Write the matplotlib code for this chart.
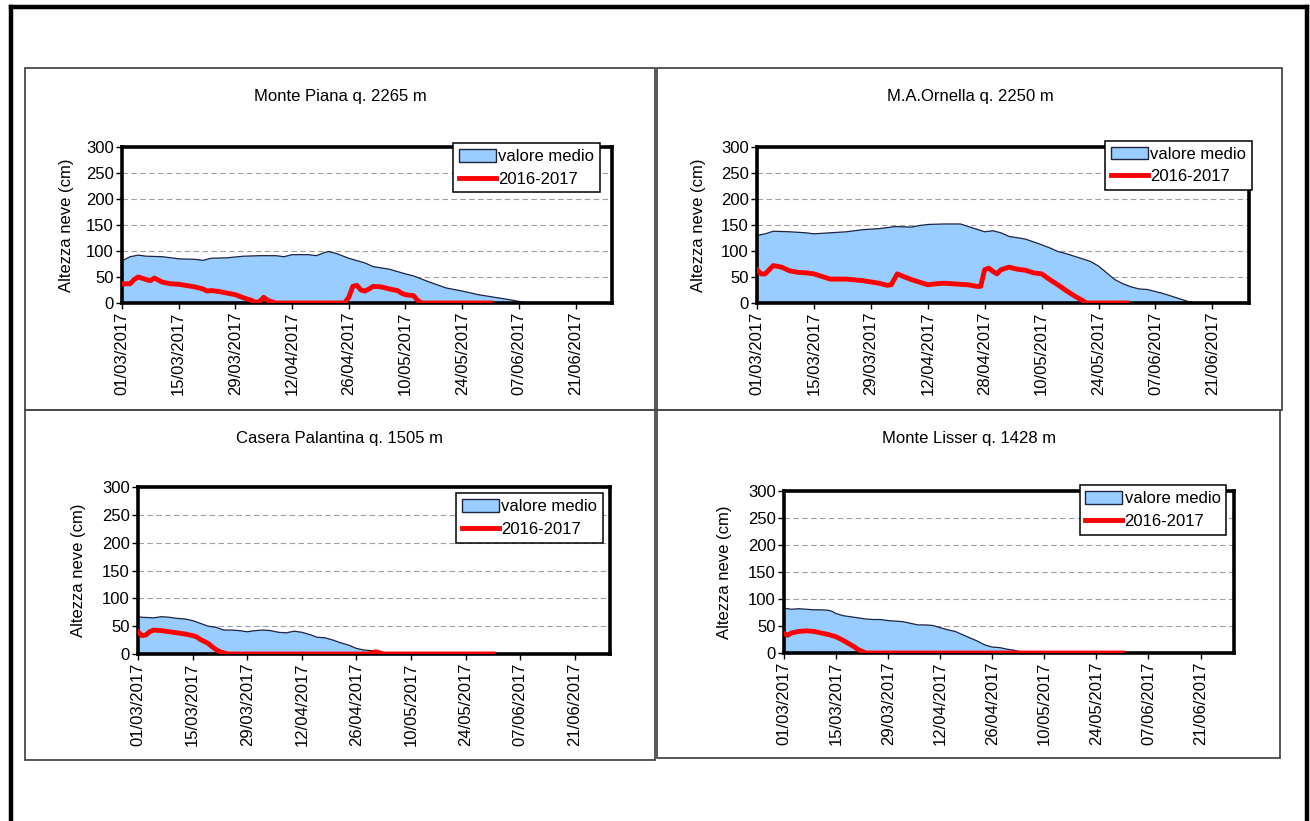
import matplotlib
matplotlib.use("Agg")
import matplotlib.pyplot as plt
from matplotlib.patches import Rectangle, Patch
from matplotlib.lines import Line2D

plt.rcParams['font.family'] = ['Liberation Sans', 'DejaVu Sans']

W, H = 1310, 821

# days counted from 01/03/2017
tick_days = [0, 14, 28, 42, 56, 70, 84, 98, 112]
tick_labels = ['01/03/2017', '15/03/2017', '29/03/2017', '12/04/2017', '26/04/2017',
               '10/05/2017', '24/05/2017', '07/06/2017', '21/06/2017']
tick_labels_ornella = ['01/03/2017', '15/03/2017', '29/03/2017', '12/04/2017', '28/04/2017',
                       '10/05/2017', '24/05/2017', '07/06/2017', '21/06/2017']

# Monte Piana
piana_medio_d = [0, 2, 4, 6, 10, 14, 18, 20, 22, 26, 30, 34, 38, 40, 42, 46, 48, 50, 51, 53,
                 56, 60, 62, 66, 70, 72, 76, 80, 84, 88, 92, 96, 98, 100, 103]
piana_medio_v = [81, 89, 92, 90, 89, 85, 84, 82, 86, 87, 90, 91, 91, 89, 93, 93, 91, 97, 99, 95,
                 86, 77, 70, 65, 56, 52, 40, 29, 23, 16, 11, 6, 3, 1, 0]
piana_stag_d = [0, 2, 3, 4, 6, 7, 8, 10, 12, 14, 18, 20, 21, 22, 24, 26, 28, 30, 32, 33, 34, 35,
                36, 38, 55, 56, 57, 58, 59, 60, 61, 62, 64, 66, 68, 69, 70, 72, 73, 74, 91]
piana_stag_v = [37, 37, 45, 50, 45, 43, 48, 40, 37, 36, 31, 27, 23, 24, 22, 19, 16, 10, 5, 1, 3, 11,
                5, 0, 0, 11, 32, 34, 25, 23, 27, 32, 31, 27, 24, 19, 16, 14, 5, 0, 0]

# M.A.Ornella
ornella_medio_d = [0, 2, 4, 8, 12, 14, 18, 22, 26, 30, 34, 38, 40, 42, 46, 50, 52, 54, 56, 58,
                   60, 62, 66, 70, 72, 74, 76, 80, 82, 84, 86, 88, 90, 92, 94, 96, 98, 100, 102,
                   104, 106, 108]
ornella_medio_v = [130, 133, 138, 137, 135, 133, 135, 137, 141, 143, 147, 146, 149, 151, 152, 152,
                   147, 142, 137, 139, 135, 128, 123, 112, 106, 99, 95, 85, 80, 71, 58, 45, 37, 31,
                   27, 26, 22, 18, 13, 8, 3, 0]
ornella_stag_d = [0, 1, 2, 3, 4, 6, 8, 10, 12, 14, 16, 18, 22, 26, 30, 32, 33, 34.5, 36, 38, 40,
                  42, 44, 46, 48, 52, 54, 55, 56, 57, 58, 59, 60, 62, 64, 66, 68, 70, 72, 74, 76,
                  78, 80, 81, 91]
ornella_stag_v = [64, 56, 56, 64, 72, 69, 62, 59, 58, 56, 51, 46, 46, 43, 38, 34, 35, 56, 51, 45, 40,
                  35, 37, 38, 37, 35, 32, 32, 64, 67, 61, 56, 64, 69, 65, 63, 58, 56, 45, 35, 24,
                  14, 5, 0, 0]

# Casera Palantina
palantina_medio_d = [0, 1, 4, 6, 8, 10, 12, 14, 16, 18, 20, 22, 24, 26, 28, 30, 32, 34, 36, 38,
                     40, 42, 44, 46, 48, 50, 52, 54, 56, 58, 60, 62, 64]
palantina_medio_v = [67, 66, 65, 67, 66, 64, 63, 60, 55, 50, 48, 43, 43, 42, 40, 42, 43, 42, 39, 38,
                     41, 39, 35, 30, 29, 25, 20, 16, 10, 7, 6, 4, 0]
palantina_stag_d = [0, 1, 2, 3, 4, 6, 8, 10, 12, 14, 15, 16, 18, 19, 20, 21, 22, 23, 59, 61, 63, 91]
palantina_stag_v = [40, 33, 34, 40, 43, 42, 40, 38, 36, 33, 31, 26, 19, 13, 8, 4, 2, 0, 0, 4, 0, 0]

# Monte Lisser
lisser_medio_d = [0, 2, 4, 6, 8, 10, 12, 13, 14, 16, 18, 20, 22, 24, 26, 28, 30, 32, 34, 36, 38,
                  40, 42, 44, 46, 48, 50, 52, 54, 56, 58, 60, 62, 64, 66]
lisser_medio_v = [83, 81, 82, 81, 80, 80, 79, 77, 73, 69, 67, 65, 63, 62, 62, 60, 59, 58, 55, 52, 52,
                  51, 47, 43, 40, 34, 28, 22, 15, 11, 10, 7, 5, 1, 0]
lisser_stag_d = [0, 1, 2, 4, 6, 8, 10, 12, 14, 16, 18, 19, 20, 21, 22, 91]
lisser_stag_v = [36, 33, 37, 40, 41, 40, 37, 34, 30, 23, 15, 11, 6, 3, 0, 0]

stations = [
    ('Monte Piana q. 2265 m', piana_medio_d, piana_medio_v, piana_stag_d, piana_stag_v, tick_labels),
    ('M.A.Ornella q. 2250 m', ornella_medio_d, ornella_medio_v, ornella_stag_d, ornella_stag_v, tick_labels_ornella),
    ('Casera Palantina q. 1505 m', palantina_medio_d, palantina_medio_v, palantina_stag_d, palantina_stag_v, tick_labels),
    ('Monte Lisser q. 1428 m', lisser_medio_d, lisser_medio_v, lisser_stag_d, lisser_stag_v, tick_labels),
]

# pixel layout: panel frame, plot area, title centre, y-label x, legend anchor
frames = [(25, 68, 655, 410), (657, 68, 1282, 410), (25, 410, 655, 760), (657, 410, 1280, 758)]
plot_boxes = [(122, 147, 612, 303), (757, 147, 1249, 303), (138, 487, 610, 654), (784, 491, 1234, 653)]
title_pos = [(340, 96), (970, 96), (340, 438), (969, 438)]
ylabel_x = [67, 698, 79, 725]
legend_anchor = [(0.976, 1.026), (1.006, 1.04), (0.985, 0.964), (0.983, 1.037)]

FILL = '#99CCFF'
RED = '#FF0000'


def fig_box(x0, y0, x1, y1):
    return [x0 / W, 1 - y1 / H, (x1 - x0) / W, (y1 - y0) / H]


fig = plt.figure(figsize=(W / 100, H / 100), dpi=100)

# outer border (open at the bottom)
fig.add_artist(Line2D([11 / W, 11 / W], [0, 1 - 7 / H], color='black', lw=3.2))
fig.add_artist(Line2D([11 / W, 1307 / W], [1 - 7 / H, 1 - 7 / H], color='black', lw=3.2))
fig.add_artist(Line2D([1307 / W, 1307 / W], [0, 1 - 7 / H], color='black', lw=3.2))

for (x0, y0, x1, y1) in frames:
    fig.add_artist(Rectangle((x0 / W, 1 - y1 / H), (x1 - x0) / W, (y1 - y0) / H,
                             transform=fig.transFigure, fill=False, edgecolor='#4a4a4a', lw=1.3))

for i, (name, md, mv, sd, sv, labels) in enumerate(stations):
    ax = fig.add_axes(fig_box(*plot_boxes[i]))
    ax.set_axisbelow(True)
    ax.fill_between(md, mv, 0, facecolor=FILL, edgecolor='none', zorder=1)
    ax.plot(md, mv, color='#1c2540', lw=0.9, zorder=1.5)
    ax.plot(sd, sv, color=RED, lw=3.5, solid_joinstyle='round', zorder=3)

    ax.set_xlim(0, 121)
    ax.set_ylim(0, 300)
    ax.set_yticks(range(0, 301, 50))
    ax.set_xticks(tick_days)
    ax.set_xticklabels(labels, rotation=90)
    ax.tick_params(axis='both', direction='out', length=4, width=1, labelsize=12,
                   pad=2, colors='black')
    ax.yaxis.grid(True, linestyle=(0, (5, 3)), color='#a0a0a0', lw=0.8)
    for sp in ax.spines.values():
        sp.set_linewidth(2.6)
        sp.set_color('black')

    handles = [Patch(facecolor=FILL, edgecolor='#1c2540', lw=1.0),
               Line2D([], [], color=RED, lw=3.5)]
    leg = ax.legend(handles, ['valore medio', '2016-2017'], loc='upper right',
                    bbox_to_anchor=legend_anchor[i], borderaxespad=0, fontsize=12,
                    frameon=True, fancybox=False, framealpha=1, edgecolor='black',
                    borderpad=0.35, labelspacing=0.45, handlelength=2.2,
                    handleheight=0.8, handletextpad=0.15)
    leg.get_frame().set_linewidth(1.1)
    leg.set_zorder(10)

    tx, ty = title_pos[i]
    fig.text(tx / W, 1 - ty / H, name, ha='center', va='center', fontsize=12)
    bx0, by0, bx1, by1 = plot_boxes[i]
    fig.text(ylabel_x[i] / W, 1 - (by0 + by1) / 2 / H, 'Altezza neve (cm)',
             rotation=90, ha='center', va='center', fontsize=12)

fig.savefig('out.png', dpi=100, facecolor='white')
